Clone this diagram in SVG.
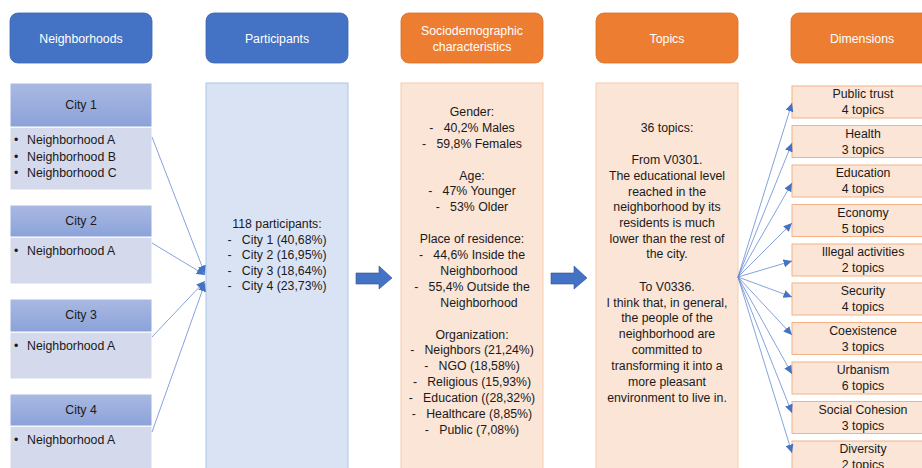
<svg xmlns="http://www.w3.org/2000/svg" width="922" height="468" viewBox="0 0 922 468">
<defs>
<style>
text{font-family:"Liberation Sans",Arial,sans-serif;font-size:12.3px;fill:#1a1a1a}
.hdrB{fill:#4472C4;stroke:#3B64B0;stroke-width:0.8}
.hdrO{fill:#ED7D31;stroke:#D9702A;stroke-width:0.8}
.ht{fill:#ffffff;text-anchor:middle}
.c{text-anchor:middle}
.cityH{fill:url(#gH);stroke:#ffffff;stroke-width:1}
.cityB{fill:#D4D9EB;stroke:#ffffff;stroke-width:1}
.part{fill:#DAE3F3;stroke:#A9C7EA;stroke-width:1}
.pbox{fill:#FBE5D6;stroke:#F8CBAD;stroke-width:1}
.dbox{fill:#FBE5D6;stroke:#F4B183;stroke-width:1}
.con{stroke:#5B84D0;stroke-width:0.75;fill:none;marker-end:url(#ah)}
.blk{fill:#4472C4;stroke:#2F528F;stroke-width:0.6}
</style>
<linearGradient id="gH" x1="0" y1="0" x2="0" y2="1">
<stop offset="0" stop-color="#AAB9E2"/>
<stop offset="1" stop-color="#8BA2D9"/>
</linearGradient>
<marker id="ah" markerUnits="userSpaceOnUse" markerWidth="9" markerHeight="8" refX="8.5" refY="4" orient="auto">
<path d="M0,0 L8.5,4 L0,8 z" fill="#4472C4"/>
</marker>
</defs>
<rect width="922" height="468" fill="#ffffff"/>

<g id="header-neighborhoods"><rect class="hdrB" x="10" y="13" width="142" height="50" rx="8"/><text class="ht" x="81" y="43">Neighborhoods</text></g>
<g id="header-participants"><rect class="hdrB" x="206" y="13" width="142" height="50" rx="8"/><text class="ht" x="277" y="43">Participants</text></g>
<g id="header-socio"><rect class="hdrO" x="401" y="13" width="142" height="50" rx="8"/><text class="ht" x="472" y="35">Sociodemographic</text><text class="ht" x="472" y="51">characteristics</text></g>
<g id="header-topics"><rect class="hdrO" x="596" y="13" width="142" height="50" rx="8"/><text class="ht" x="667" y="43">Topics</text></g>
<g id="header-dimensions"><rect class="hdrO" x="791" y="13" width="142" height="50" rx="8"/><text class="ht" x="862" y="43">Dimensions</text></g>

<g id="city1"><rect class="cityB" x="10" y="127" width="142" height="63"/><rect class="cityH" x="10" y="83" width="142" height="44"/><text class="c" x="81" y="109">City 1</text>
<text x="14" y="144">•</text><text x="27" y="144">Neighborhood A</text>
<text x="14" y="161">•</text><text x="27" y="161">Neighborhood B</text>
<text x="14" y="177">•</text><text x="27" y="177">Neighborhood C</text></g>
<g id="city2"><rect class="cityB" x="10" y="237" width="142" height="47"/><rect class="cityH" x="10" y="205" width="142" height="32"/><text class="c" x="81" y="225">City 2</text>
<text x="14" y="255">•</text><text x="27" y="255">Neighborhood A</text></g>
<g id="city3"><rect class="cityB" x="10" y="332" width="142" height="47"/><rect class="cityH" x="10" y="299" width="142" height="33"/><text class="c" x="81" y="319">City 3</text>
<text x="14" y="350">•</text><text x="27" y="350">Neighborhood A</text></g>
<g id="city4"><rect class="cityB" x="10" y="426" width="142" height="50"/><rect class="cityH" x="10" y="394" width="142" height="32"/><text class="c" x="81" y="414">City 4</text>
<text x="14" y="444">•</text><text x="27" y="444">Neighborhood A</text></g>

<g id="participants"><rect class="part" x="206" y="83" width="142" height="395"/>
<text class="c" x="277" y="228">118 participants:</text>
<text class="c" x="277" y="244" xml:space="preserve">-   City 1 (40,68%)</text>
<text class="c" x="277" y="259" xml:space="preserve">-   City 2 (16,95%)</text>
<text class="c" x="277" y="275" xml:space="preserve">-   City 3 (18,64%)</text>
<text class="c" x="277" y="290" xml:space="preserve">-   City 4 (23,73%)</text></g>

<g id="socio"><rect class="pbox" x="401" y="83" width="142" height="395"/>
<text class="c" x="472" y="116">Gender:</text>
<text class="c" x="472" y="132" xml:space="preserve">-   40,2% Males</text>
<text class="c" x="472" y="148" xml:space="preserve">-   59,8% Females</text>
<text class="c" x="472" y="180">Age:</text>
<text class="c" x="472" y="195" xml:space="preserve">-   47% Younger</text>
<text class="c" x="472" y="211" xml:space="preserve">-   53% Older</text>
<text class="c" x="472" y="243">Place of residence:</text>
<text class="c" x="472" y="259" xml:space="preserve">-   44,6% Inside the</text>
<text class="c" x="479" y="275">Neighborhood</text>
<text class="c" x="472" y="291" xml:space="preserve">-   55,4% Outside the</text>
<text class="c" x="479" y="307">Neighborhood</text>
<text class="c" x="472" y="339">Organization:</text>
<text class="c" x="472" y="354" xml:space="preserve">-   Neighbors (21,24%)</text>
<text class="c" x="472" y="370" xml:space="preserve">-   NGO (18,58%)</text>
<text class="c" x="472" y="386" xml:space="preserve">-   Religious (15,93%)</text>
<text class="c" x="472" y="402" xml:space="preserve">-   Education ((28,32%)</text>
<text class="c" x="472" y="418" xml:space="preserve">-   Healthcare (8,85%)</text>
<text class="c" x="472" y="434" xml:space="preserve">-   Public (7,08%)</text></g>

<g id="topics"><rect class="pbox" x="596" y="83" width="142" height="395"/>
<text class="c" x="667" y="132">36 topics:</text>
<text class="c" x="667" y="164">From V0301.</text>
<text class="c" x="667" y="180">The educational level</text>
<text class="c" x="667" y="196">reached in the</text>
<text class="c" x="667" y="211">neighborhood by its</text>
<text class="c" x="667" y="227">residents is much</text>
<text class="c" x="667" y="243">lower than the rest of</text>
<text class="c" x="667" y="258">the city.</text>
<text class="c" x="667" y="291">To V0336.</text>
<text class="c" x="667" y="307">I think that, in general,</text>
<text class="c" x="667" y="322">the people of the</text>
<text class="c" x="667" y="338">neighborhood are</text>
<text class="c" x="667" y="354">committed to</text>
<text class="c" x="667" y="370">transforming it into a</text>
<text class="c" x="667" y="386">more pleasant</text>
<text class="c" x="667" y="402">environment to live in.</text></g>

<g id="dim-public-trust"><rect class="dbox" x="792" y="86" width="142" height="32"/><text class="c" x="863" y="98">Public trust</text><text class="c" x="863" y="114">4 topics</text></g>
<g id="dim-health"><rect class="dbox" x="792" y="125.5" width="142" height="32"/><text class="c" x="863" y="137.5">Health</text><text class="c" x="863" y="153.5">3 topics</text></g>
<g id="dim-education"><rect class="dbox" x="792" y="165" width="142" height="32"/><text class="c" x="863" y="177">Education</text><text class="c" x="863" y="193">4 topics</text></g>
<g id="dim-economy"><rect class="dbox" x="792" y="204.5" width="142" height="32"/><text class="c" x="863" y="216.5">Economy</text><text class="c" x="863" y="232.5">5 topics</text></g>
<g id="dim-illegal"><rect class="dbox" x="792" y="244" width="142" height="32"/><text class="c" x="863" y="256">Illegal activities</text><text class="c" x="863" y="272">2 topics</text></g>
<g id="dim-security"><rect class="dbox" x="792" y="283" width="142" height="32"/><text class="c" x="863" y="295">Security</text><text class="c" x="863" y="311">4 topics</text></g>
<g id="dim-coexistence"><rect class="dbox" x="792" y="322.5" width="142" height="32"/><text class="c" x="863" y="334.5">Coexistence</text><text class="c" x="863" y="350.5">3 topics</text></g>
<g id="dim-urbanism"><rect class="dbox" x="792" y="362" width="142" height="32"/><text class="c" x="863" y="374">Urbanism</text><text class="c" x="863" y="390">6 topics</text></g>
<g id="dim-social-cohesion"><rect class="dbox" x="792" y="401.5" width="142" height="32"/><text class="c" x="863" y="413.5">Social Cohesion</text><text class="c" x="863" y="429.5">3 topics</text></g>
<g id="dim-diversity"><rect class="dbox" x="792" y="441" width="142" height="32"/><text class="c" x="863" y="453">Diversity</text><text class="c" x="863" y="469">2 topics</text></g>

<g id="connectors">
<path class="con" d="M152,137 L205,274"/>
<path class="con" d="M152,243 L205,275"/>
<path class="con" d="M152,337 L205,281"/>
<path class="con" d="M152,432 L205,283"/>
<path class="blk" d="M356,273 L379,273 L379,266 L392,278 L379,289 L379,284 L356,284 z"/>
<path class="blk" d="M551,273 L574,273 L574,266 L587,278 L574,289 L574,284 L551,284 z"/>
<path class="con" d="M738,277 L792,103"/>
<path class="con" d="M738,277 L792,143"/>
<path class="con" d="M738,277 L792,183"/>
<path class="con" d="M738,277 L792,223"/>
<path class="con" d="M738,277 L792,261"/>
<path class="con" d="M738,277 L792,297"/>
<path class="con" d="M738,277 L792,335"/>
<path class="con" d="M738,277 L792,374"/>
<path class="con" d="M738,277 L792,413"/>
<path class="con" d="M738,277 L792,453"/>
</g>
</svg>
